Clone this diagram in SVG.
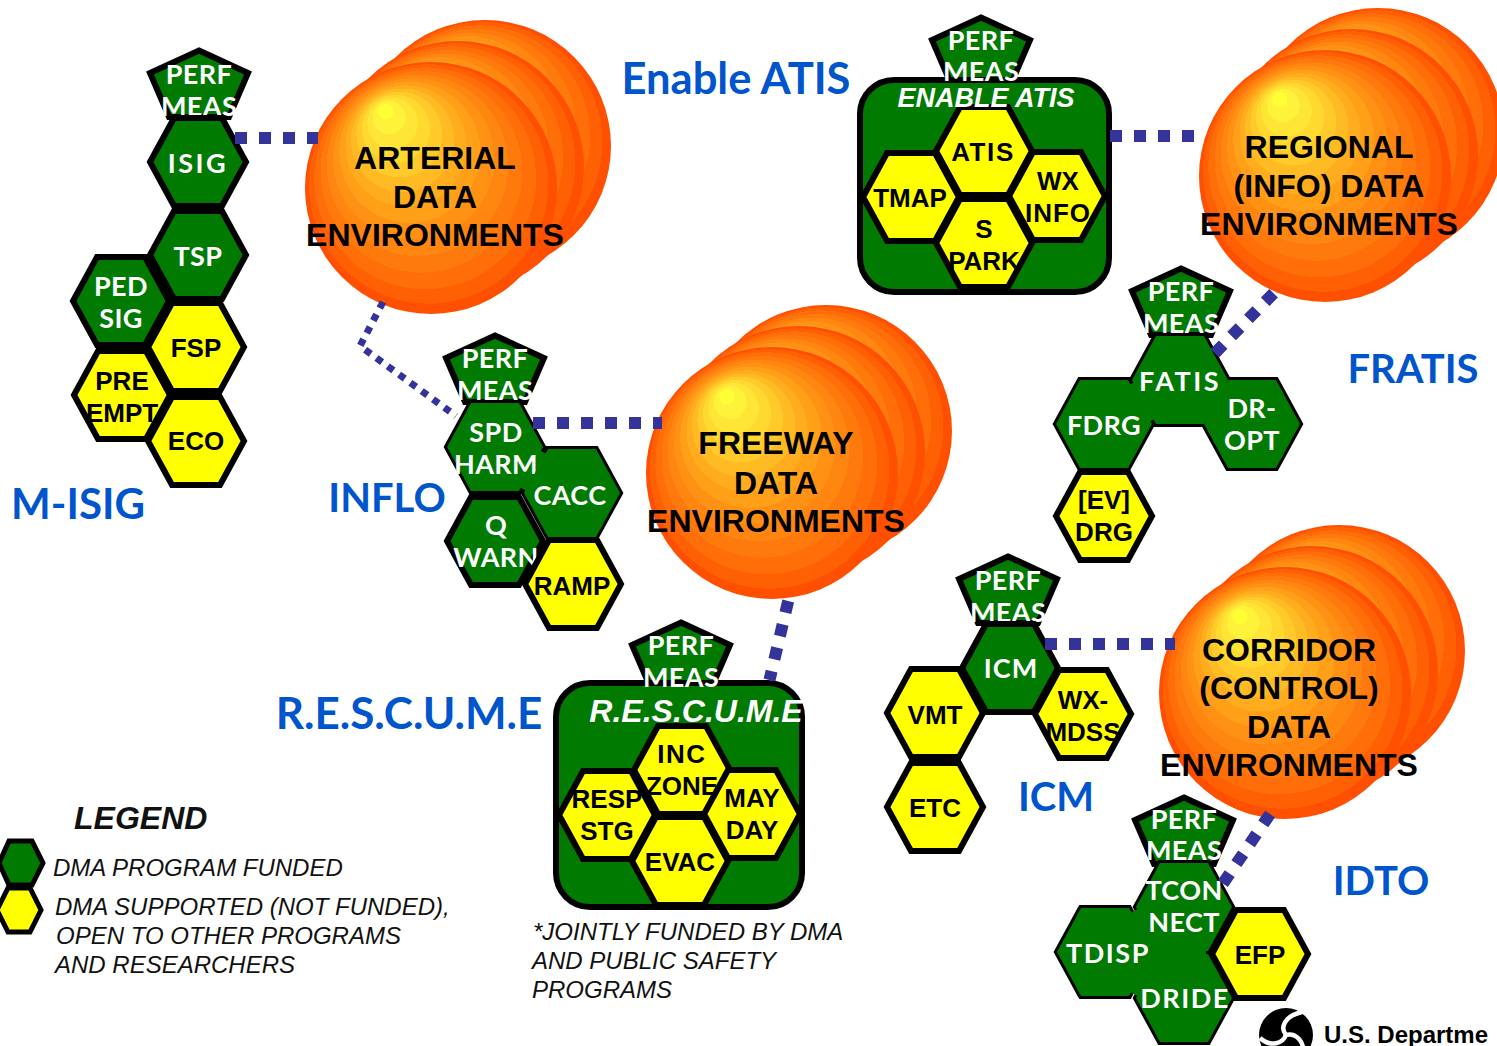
<svg xmlns="http://www.w3.org/2000/svg" width="1497" height="1046" viewBox="0 0 1497 1046">
<style>
.g{fill:#007a00;stroke:#000;stroke-width:6;stroke-linejoin:miter}
.y{fill:#ff0;stroke:#000;stroke-width:6}
.f{fill:#007a00;stroke:none}
.b{stroke:#007a00;stroke-width:14;fill:none}
.w{font:700 27px Lato,"Liberation Sans",sans-serif;fill:#fff;text-anchor:middle;letter-spacing:.4px}
.k{font:700 26px "Liberation Sans",sans-serif;fill:#000;text-anchor:middle}
.big{font:700 32px "Liberation Sans",sans-serif;fill:#000;text-anchor:middle}
.t{font:700 40px Lato,"Open Sans",sans-serif;fill:#0055cc;text-anchor:middle}
.i{font:italic 400 24px "Liberation Sans",sans-serif;fill:#111}
.h{font:italic 700 28px "Liberation Sans",sans-serif;fill:#fff;text-anchor:middle}
.c1{stroke:#333399;stroke-width:12;stroke-dasharray:12 12;fill:none}
.c2{stroke:#333399;stroke-width:7;stroke-dasharray:7 7;fill:none}
</style>
<defs>
<polygon id="hex" points="-48,0 -24,-44 24,-44 48,0 24,44 -24,44"/>
<polygon id="pent" points="0,-28.5 49,-6 30,38 -30,38 -49,-6"/>
<radialGradient id="sun" gradientUnits="userSpaceOnUse" cx="0" cy="0" r="126" fx="-48" fy="-81">
<stop offset="0" stop-color="#ffff33"/><stop offset=".06" stop-color="#ffff33"/>
<stop offset=".06" stop-color="#fff23a"/><stop offset=".13" stop-color="#fff23a"/>
<stop offset=".13" stop-color="#ffe636"/><stop offset=".2" stop-color="#ffe636"/>
<stop offset=".2" stop-color="#ffd830"/><stop offset=".27" stop-color="#ffd830"/>
<stop offset=".27" stop-color="#ffca2a"/><stop offset=".34" stop-color="#ffca2a"/>
<stop offset=".34" stop-color="#ffbb24"/><stop offset=".41" stop-color="#ffbb24"/>
<stop offset=".41" stop-color="#ffad1e"/><stop offset=".48" stop-color="#ffad1e"/>
<stop offset=".48" stop-color="#ffa018"/><stop offset=".56" stop-color="#ffa018"/>
<stop offset=".56" stop-color="#ff9214"/><stop offset=".64" stop-color="#ff9214"/>
<stop offset=".64" stop-color="#ff8610"/><stop offset=".72" stop-color="#ff8610"/>
<stop offset=".72" stop-color="#ff7a0c"/><stop offset=".8" stop-color="#ff7a0c"/>
<stop offset=".8" stop-color="#ff6e08"/><stop offset=".88" stop-color="#ff6e08"/>
<stop offset=".88" stop-color="#ff6004"/><stop offset=".95" stop-color="#ff6004"/>
<stop offset=".95" stop-color="#ff4f00"/><stop offset="1" stop-color="#ff4f00"/>
</radialGradient>
</defs>

<g id="env-arterial">
<circle transform="translate(485,146)" r="126" fill="url(#sun)"/>
<circle transform="translate(458,167)" r="126" fill="url(#sun)"/>
<circle transform="translate(431,188)" r="126" fill="url(#sun)"/>
<text class="big" x="435" y="169">ARTERIAL</text><text class="big" x="435" y="208">DATA</text><text class="big" x="435" y="246">ENVIRONMENTS</text>
</g>
<g id="env-regional">
<circle transform="translate(1378,134)" r="126" fill="url(#sun)"/>
<circle transform="translate(1352,155)" r="126" fill="url(#sun)"/>
<circle transform="translate(1325,176)" r="126" fill="url(#sun)"/>
<text class="big" x="1329" y="158">REGIONAL</text><text class="big" x="1329" y="197">(INFO) DATA</text><text class="big" x="1329" y="235">ENVIRONMENTS</text>
</g>
<g id="env-freeway">
<circle transform="translate(826,431)" r="126" fill="url(#sun)"/>
<circle transform="translate(799,452)" r="126" fill="url(#sun)"/>
<circle transform="translate(772,473)" r="126" fill="url(#sun)"/>
<text class="big" x="776" y="454">FREEWAY</text><text class="big" x="776" y="494">DATA</text><text class="big" x="776" y="532">ENVIRONMENTS</text>
</g>
<g id="env-corridor">
<circle transform="translate(1339,651)" r="126" fill="url(#sun)"/>
<circle transform="translate(1312,672)" r="126" fill="url(#sun)"/>
<circle transform="translate(1285,693)" r="126" fill="url(#sun)"/>
<text class="big" x="1289" y="661">CORRIDOR</text><text class="big" x="1289" y="699">(CONTROL)</text><text class="big" x="1289" y="738">DATA</text><text class="big" x="1289" y="776">ENVIRONMENTS</text>
</g>

<g id="titles">
<text class="t" x="736" y="94" style="font-size:43.5px">Enable ATIS</text>
<text class="t" x="1413" y="383">FRATIS</text>
<text class="t" x="78" y="519" style="font-size:42px">M-ISIG</text>
<text class="t" x="387" y="512">INFLO</text>
<text class="t" x="409" y="729" style="font-size:44px">R.E.S.C.U.M.E</text>
<text class="t" x="1056" y="811">ICM</text>
<text class="t" x="1381" y="895">IDTO</text>
</g>

<!-- M-ISIG -->
<g id="misig-perf"><use href="#pent" x="199" y="79" class="g"/><text class="w" x="199" y="84">PERF</text><text class="w" x="199" y="116">MEAS</text></g>
<g id="misig-ped"><use href="#hex" x="121" y="301" class="g"/><text class="w" x="121" y="296">PED</text><text class="w" x="121" y="328">SIG</text></g>
<g id="misig-pre"><use href="#hex" x="122" y="395" class="y"/><text class="k" x="122" y="390">PRE</text><text class="k" x="122" y="422">EMPT</text></g>
<g id="misig-fsp"><use href="#hex" x="196" y="347" class="y"/><text class="k" x="196" y="357">FSP</text></g>
<g id="misig-eco"><use href="#hex" x="196" y="441" class="y"/><text class="k" x="196" y="450">ECO</text></g>
<g id="misig-tsp"><use href="#hex" x="198" y="255" class="g"/><text class="w" x="198" y="266">TSP</text></g>
<g id="misig-isig"><use href="#hex" x="198" y="162" class="g"/><text class="w" x="198" y="173" style="letter-spacing:2.5px">ISIG</text></g>

<!-- INFLO -->
<g id="inflo-perf"><use href="#pent" x="495" y="364" class="g"/><text class="w" x="495" y="368">PERF</text><text class="w" x="495" y="400">MEAS</text></g>
<g id="inflo-outline"><use href="#hex" x="495" y="447" class="g"/><use href="#hex" x="572" y="493" class="g"/><path class="b" d="M543 452L523 489"/></g>
<g id="inflo-spd"><use href="#hex" x="495" y="447" class="f"/><text class="w" x="496" y="442">SPD</text><text class="w" x="496" y="474">HARM</text></g>
<g id="inflo-cacc"><use href="#hex" x="572" y="493" class="f"/><text class="w" x="570" y="505">CACC</text></g>
<g id="inflo-q"><use href="#hex" x="495" y="541" class="g"/><text class="w" x="496" y="535">Q</text><text class="w" x="496" y="567">WARN</text></g>
<g id="inflo-ramp"><use href="#hex" x="573" y="584" class="y"/><text class="k" x="572" y="595">RAMP</text></g>

<!-- Enable ATIS -->
<g id="atis-perf"><use href="#pent" x="981" y="46" class="g"/></g>
<g id="atis-box"><rect x="860" y="80" width="249" height="212" rx="34" class="g"/></g>
<g id="atis-perf-label"><text class="w" x="981" y="50">PERF</text><text class="w" x="981" y="81">MEAS</text></g>
<g id="atis-tmap"><use href="#hex" x="911" y="197" class="y"/><text class="k" x="910" y="207">TMAP</text></g>
<g id="atis-wx"><use href="#hex" x="1057" y="196" class="y"/><text class="k" x="1058" y="190">WX</text><text class="k" x="1058" y="222" letter-spacing="1">INFO</text></g>
<g id="atis-atis"><use href="#hex" x="984" y="151" class="y"/><text class="k" x="983" y="161" letter-spacing="1.6">ATIS</text></g>
<g id="atis-park"><use href="#hex" x="984" y="243" class="y"/><text class="k" x="984" y="238">S</text><text class="k" x="984" y="270">PARK</text></g>
<text class="h" x="986" y="107" style="font-size:27px">ENABLE ATIS</text>

<!-- FRATIS -->
<g id="fratis-perf"><use href="#pent" x="1181" y="297" class="g"/><text class="w" x="1181" y="301">PERF</text><text class="w" x="1181" y="333">MEAS</text></g>
<g id="fratis-outline"><use href="#hex" x="1180" y="380" class="g"/><use href="#hex" x="1104" y="424" class="g"/><use href="#hex" x="1252" y="424" class="g"/><path class="b" d="M1131 384L1151 421M1229 384L1209 421"/></g>
<g id="fratis-fatis"><use href="#hex" x="1180" y="380" class="f"/></g>
<g id="fratis-fdrg"><use href="#hex" x="1104" y="424" class="f"/><text class="w" x="1104" y="435">FDRG</text></g>
<g id="fratis-dropt"><use href="#hex" x="1252" y="424" class="f"/><text class="w" x="1252" y="418">DR-</text><text class="w" x="1252" y="450">OPT</text></g>
<text class="w" x="1180" y="391" style="letter-spacing:2.5px">FATIS</text>
<g id="fratis-ev"><use href="#hex" x="1104" y="516" class="y"/><text class="k" x="1104" y="509">[EV]</text><text class="k" x="1104" y="541">DRG</text></g>

<!-- RESCUME -->
<g id="res-perf"><use href="#pent" x="681" y="651" class="g"/></g>
<g id="res-box"><rect x="556" y="683" width="246" height="224" rx="34" class="g"/></g>
<g id="res-perf-label"><text class="w" x="681" y="655">PERF</text><text class="w" x="681" y="687">MEAS</text></g>
<g id="res-inc"><use href="#hex" x="682" y="770" class="y"/><text class="k" x="682" y="763" letter-spacing="1.5">INC</text><text class="k" x="682" y="795">ZONE</text></g>
<g id="res-resp"><use href="#hex" x="607" y="815" class="y"/><text class="k" x="607" y="808">RESP</text><text class="k" x="607" y="840">STG</text></g>
<g id="res-may"><use href="#hex" x="752" y="814" class="y"/><text class="k" x="752" y="807">MAY</text><text class="k" x="752" y="839">DAY</text></g>
<g id="res-evac"><use href="#hex" x="680" y="861" class="y"/><text class="k" x="680" y="871">EVAC</text></g>
<text class="h" x="696" y="722" style="font-size:32px">R.E.S.C.U.M.E</text>

<!-- ICM -->
<g id="icm-perf"><use href="#pent" x="1008" y="585" class="g"/><text class="w" x="1008" y="590">PERF</text><text class="w" x="1008" y="622">MEAS</text></g>
<g id="icm-vmt"><use href="#hex" x="935" y="713" class="y"/><text class="k" x="935" y="724">VMT</text></g>
<g id="icm-etc"><use href="#hex" x="935" y="807" class="y"/><text class="k" x="935" y="817">ETC</text></g>
<g id="icm-wx"><use href="#hex" x="1083" y="714" class="y"/><text class="k" x="1083" y="709">WX-</text><text class="k" x="1083" y="741">MDSS</text></g>
<g id="icm-icm"><use href="#hex" x="1010" y="668" class="g"/><text class="w" x="1011" y="678" style="letter-spacing:1px">ICM</text></g>

<!-- IDTO -->
<g id="idto-perf"><use href="#pent" x="1184" y="826" class="g"/><text class="w" x="1184" y="829">PERF</text><text class="w" x="1184" y="860">MEAS</text></g>
<g id="idto-outline"><use href="#hex" x="1184" y="907" class="g"/><use href="#hex" x="1105" y="952" class="g"/><use href="#hex" x="1184" y="998" class="g"/><path class="b" d="M1134 911L1155 948M1134 994L1155 956M1148 952.5H1206"/></g>
<g id="idto-dride"><use href="#hex" x="1184" y="998" class="f"/></g>
<g id="idto-tcon"><use href="#hex" x="1184" y="907" class="f"/></g>
<g id="idto-tdisp"><use href="#hex" x="1105" y="952" class="f"/></g>
<text class="w" x="1185" y="1008" style="letter-spacing:1.5px">DRIDE</text>
<text class="w" x="1184" y="900">TCON</text><text class="w" x="1184" y="932">NECT</text>
<text class="w" x="1108" y="963" style="letter-spacing:1.5px">TDISP</text>
<g id="idto-efp"><use href="#hex" x="1260" y="954" class="y"/><text class="k" x="1260" y="964">EFP</text></g>

<g id="connectors">
<path class="c1" d="M235 138H318"/>
<path class="c2" d="M383 302L360 346L456 416"/>
<path class="c1" d="M533 423H662"/>
<path class="c1" d="M1110 136H1195"/>
<path class="c1" d="M1214.8 353.2L1281.6 285"/>
<path class="c1" d="M788.2 601L769.5 680"/>
<path class="c1" d="M1045 644H1175"/>
<path class="c1" d="M1270 814L1222 885"/>
</g>

<!-- Legend -->
<g id="legend">
<text x="74" y="829" style="font:italic 700 32px 'Liberation Sans',sans-serif;fill:#111">LEGEND</text>
<polygon class="g" points="-1,863 9,841 32,841 43,863 32,885 9,885" style="stroke-width:5"/>
<polygon class="y" points="-3,910 8,888 30,888 41,910 30,932 8,932" style="stroke-width:5"/>
<text class="i" x="53" y="876">DMA PROGRAM FUNDED</text>
<text class="i" x="55" y="915">DMA SUPPORTED (NOT FUNDED),</text>
<text class="i" x="56" y="944">OPEN TO OTHER PROGRAMS</text>
<text class="i" x="55" y="973">AND RESEARCHERS</text>
</g>
<g id="footnote">
<text class="i" x="533" y="940">*JOINTLY FUNDED BY DMA</text>
<text class="i" x="532" y="969">AND PUBLIC SAFETY</text>
<text class="i" x="532" y="998">PROGRAMS</text>
</g>
<g id="dot-logo">
<circle cx="1286" cy="1035" r="27" fill="#000"/>
<g fill="none" stroke="#fff" stroke-width="4.5">
<path d="M1286 1035C1280 1028 1284 1016 1302 1012"/>
<path d="M1286 1035C1295 1033 1306 1040 1303 1058"/>
<path d="M1286 1035C1283 1043 1271 1048 1260 1038"/>
</g>
<text x="1324" y="1043" style="font:700 24px 'Liberation Sans',sans-serif;fill:#000">U.S. Departme</text>
</g>
</svg>
